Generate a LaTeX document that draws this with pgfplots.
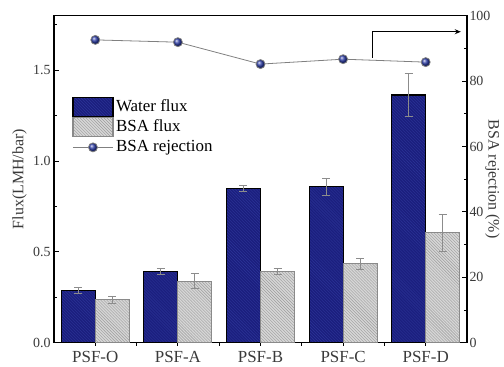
\documentclass[border=0pt]{standalone}
\usepackage{pgfplots}
\usepackage{pgfplotstable}
\pgfplotsset{compat=1.18}
\usepackage{fontspec}
\setmainfont{Liberation Serif}
\usetikzlibrary{patterns,arrows.meta}
\definecolor{navy}{HTML}{1B1F7E}
\definecolor{navyline}{HTML}{2C3498}
\definecolor{bsafill}{HTML}{D6D6D6}
\definecolor{bsahatch}{HTML}{9C9C9C}
\definecolor{bsaedge}{HTML}{8A8A8A}
\definecolor{ballblue}{HTML}{2E3EA8}
\definecolor{ticktext}{HTML}{3A3A3A}
\definecolor{errgray}{HTML}{8C8C8C}

\pgfplotstableread{
x w we b be
0 0.286 0.016 0.236 0.018
1 0.394 0.016 0.339 0.040
2 0.850 0.016 0.392 0.016
3 0.859 0.047 0.434 0.030
4 1.363 0.120 0.606 0.102
}\fluxdata

\pgfplotstableread{
x r
0 92.6
1 91.9
2 85.2
3 86.7
4 85.8
}\rejdata

\begin{document}
\begin{tikzpicture}
\useasboundingbox (-54bp,-24bp) rectangle (450bp,342.7bp);
\pgfplotsset{
  common/.style={
    scale only axis, width=413bp, height=327bp,
    at={(0,0)}, anchor=south west,
    xmin=-0.5, xmax=4.5,
    axis line style={black, line width=1.1pt},
    tick style={black, line width=0.9pt},
    major tick length=5bp, minor tick length=3bp,
    /pgf/number format/assume math mode=true,
    ticklabel style={text=ticktext, font=\fontsize{14}{16}\selectfont},
  },
  errstyle/.style={draw=none, mark=none, forget plot,
    error bars/.cd, y dir=both, y explicit,
    error bar style={draw=errgray, line width=0.9pt},
    error mark options={rotate=90, mark size=4bp, draw=errgray, line width=0.9pt}},
}
\begin{axis}[common,
  ymin=0, ymax=1.8,
  xtick={0,1,2,3,4},
  xticklabels={PSF-O,PSF-A,PSF-B,PSF-C,PSF-D},
  minor xtick={0.5,1.5,2.5,3.5},
  xticklabel style={font=\fontsize{17}{19}\selectfont, text=ticktext, inner sep=0pt, yshift=-8bp},
  x tick style={yshift=-3bp},
  ytick={0,0.5,1.0,1.5},
  minor ytick={0.25,0.75,1.25,1.75},
  yticklabel style={/pgf/number format/.cd, fixed, fixed zerofill, precision=1},
  tick pos=left, tick align=inside,
  ylabel={Flux(LMH/bar)},
  every axis y label/.style={at={(rel axis cs:0,0.5)}, xshift=-27bp, rotate=90, anchor=south,
    inner sep=0pt, font=\fontsize{16}{18}\selectfont, text=ticktext},
]
\addplot[ybar, bar width=34bp, bar shift=-17bp, fill=navy, draw=black, line width=1.2pt,
  postaction={pattern=north west lines, pattern color=navyline}]
  table[x=x, y=w]{\fluxdata};
\addplot[ybar, bar width=34bp, bar shift=17bp, fill=bsafill, draw=bsaedge, line width=1.2pt,
  postaction={pattern=north west lines, pattern color=bsahatch}]
  table[x=x, y=b]{\fluxdata};
\addplot[errstyle] table[x expr=\thisrow{x}-0.206, y=w, y error=we]{\fluxdata};
\addplot[errstyle] table[x expr=\thisrow{x}+0.206, y=b, y error=be]{\fluxdata};
\end{axis}
\begin{axis}[common,
  ymin=0, ymax=100,
  axis x line=none,
  axis y line*=right,
  ytick={0,20,40,60,80,100},
  minor ytick={10,30,50,70,90},
  tick align=inside,
  yticklabel style={xshift=-1bp},
  ylabel={BSA rejection (\%)},
  every axis y label/.style={at={(rel axis cs:1,0.5)}, xshift=18bp, rotate=-90, anchor=south,
    inner sep=0pt, font=\fontsize{16}{18}\selectfont, text=ticktext},
  legend style={at={(0.044,0.752)}, anchor=north west, draw=none, fill=none,
    font=\fontsize{17}{19}\selectfont, row sep=0pt,
    inner xsep=0pt, inner ysep=0pt,
    nodes={inner xsep=2.5bp, inner ysep=2bp, text height=12bp, text depth=4bp}},
  legend cell align=left,
]
\addlegendimage{legend image code/.code={\draw[fill=navy, draw=black, line width=1.2pt, postaction={pattern=north west lines, pattern color=navyline}] (0bp,-9.5bp) rectangle (40bp,9.5bp);}}
\addlegendentry{Water flux}
\addlegendimage{legend image code/.code={\draw[fill=bsafill, draw=bsaedge, line width=1.2pt, postaction={pattern=north west lines, pattern color=bsahatch}] (0bp,-9.5bp) rectangle (40bp,9.5bp);}}
\addlegendentry{BSA flux}
\addplot[color=gray, line width=0.8pt, mark=ball, mark size=4.5bp, mark options={ball color=ballblue},
  legend image code/.code={\draw[gray, line width=0.8pt] (0bp,0bp) -- (40bp,0bp); \shade[ball color=ballblue] (20bp,0bp) circle (4.5bp);}]
  table[x=x, y=r]{\rejdata};
\addlegendentry{BSA rejection}
\draw[black, line width=1.2pt, -{Stealth[length=6bp, width=5bp]}]
  (rel axis cs:0.772,0.871) -- (rel axis cs:0.772,0.951) -- (rel axis cs:0.985,0.951);
\end{axis}
\end{tikzpicture}
\end{document}
